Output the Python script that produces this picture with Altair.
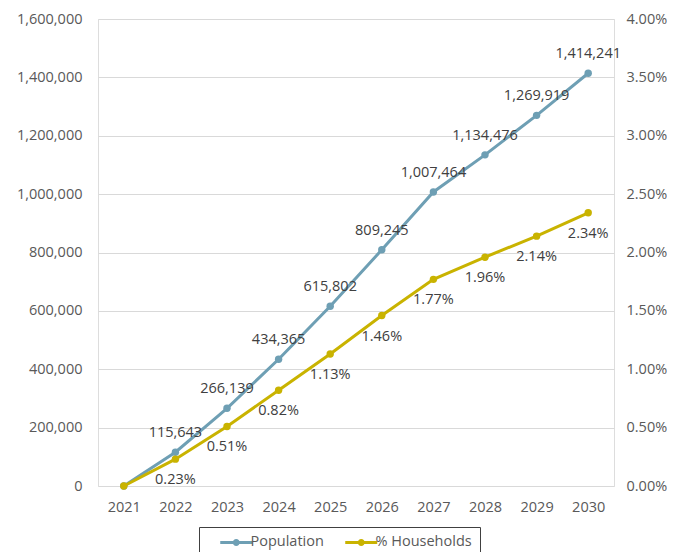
import altair as alt
import pandas as pd

years = ["2021", "2022", "2023", "2024", "2025", "2026", "2027", "2028", "2029", "2030"]
population = [0, 115643, 266139, 434365, 615802, 809245, 1007464, 1134476, 1269919, 1414241]
households_pct = [0.00, 0.23, 0.51, 0.82, 1.13, 1.46, 1.77, 1.96, 2.14, 2.34]
series_names = ["Population", "% Households"]
series_colors = ["#6E9FB4", "#C9B300"]
left_ticks = [0, 200000, 400000, 600000, 800000, 1000000, 1200000, 1400000, 1600000]
right_ticks = [0, 0.005, 0.01, 0.015, 0.02, 0.025, 0.03, 0.035, 0.04]

df = pd.DataFrame({
    "year": years,
    "pop": population,
    "hh": [v / 100 for v in households_pct],
})

FONT = "Open Sans"
AXIS_GREY = "#595959"
LABEL_DARK = "#404040"

x_enc = alt.X(
    "year:O",
    title=None,
    scale=alt.Scale(type="point", padding=0.5),
    axis=alt.Axis(labelAngle=0, ticks=False, domain=False, grid=False,
                  labelPadding=14, labelFontSize=14.5, labelColor=AXIS_GREY, labelFont=FONT),
)

y_pop = alt.Y(
    "pop:Q",
    title=None,
    scale=alt.Scale(domain=[0, 1600000], nice=False),
    axis=alt.Axis(orient="left", values=left_ticks, labelExpr="format(datum.value, ',')",
                  ticks=False, domain=False,
                  grid=True, gridColor="#D9D9D9", gridWidth=1, labelPadding=16,
                  labelFontSize=14.5, labelColor=AXIS_GREY, labelFont=FONT),
)

y_hh = alt.Y(
    "hh:Q",
    title=None,
    scale=alt.Scale(domain=[0, 0.04], nice=False),
    axis=alt.Axis(orient="right", values=right_ticks, labelExpr="format(datum.value, '.2%')",
                  ticks=False, domain=False,
                  grid=False, labelPadding=12, labelFontSize=14.5, labelColor=AXIS_GREY,
                  labelFont=FONT),
)

legend_symbol = ("M-3.2,-0.3L3.2,-0.3L3.2,0.3L-3.2,0.3Z"
                 "M-0.7,0A0.7,0.7,0,1,1,0.7,0A0.7,0.7,0,1,1,-0.7,0Z")

fill_enc = alt.Fill(
    "series:N",
    scale=alt.Scale(domain=series_names, range=series_colors),
    legend=alt.Legend(
        title=None, orient="none", legendX=101, legendY=508, direction="horizontal",
        symbolType=legend_symbol, symbolSize=100, symbolStrokeWidth=0, symbolOffset=22,
        labelOffset=7, labelFont=FONT, labelFontSize=14.5, labelColor=AXIS_GREY,
        columnPadding=8, padding=8, fillColor="white", strokeColor="#404040",
    ),
)

base = alt.Chart(df)

pop_line = base.mark_line(strokeWidth=3, color=series_colors[0]).encode(x=x_enc, y=y_pop)
pop_pts = base.mark_point(filled=True, size=55, opacity=1).transform_calculate(
    series="'Population'").encode(x=x_enc, y=y_pop, fill=fill_enc)
pop_txt = base.transform_filter("datum.pop > 0").mark_text(
    dy=-19, fontSize=14.5, font=FONT, color=LABEL_DARK
).encode(x=x_enc, y=y_pop, text=alt.Text("pop:Q", format=","))

hh_line = base.mark_line(strokeWidth=3, color=series_colors[1]).encode(x=x_enc, y=y_hh)
hh_pts = base.mark_point(filled=True, size=55, opacity=1).transform_calculate(
    series="'% Households'").encode(x=x_enc, y=y_hh, fill=fill_enc)
hh_txt = base.transform_filter("datum.hh > 0").mark_text(
    dy=21, fontSize=14.5, font=FONT, color=LABEL_DARK
).encode(x=x_enc, y=y_hh, text=alt.Text("hh:Q", format=".2%"))

pop_layer = alt.layer(pop_line, pop_pts, pop_txt)
hh_layer = alt.layer(hh_line, hh_pts, hh_txt)

chart = alt.layer(pop_layer, hh_layer).resolve_scale(y="independent").properties(
    width=516,
    height=467,
    autosize=alt.AutoSizeParams(type="none"),
    padding={"left": 90, "top": 11, "right": 53, "bottom": 70},
).configure_view(stroke="#000000", strokeWidth=1).configure(background="white")

chart.save("out.html", embed_options={"renderer": "svg", "actions": False})
